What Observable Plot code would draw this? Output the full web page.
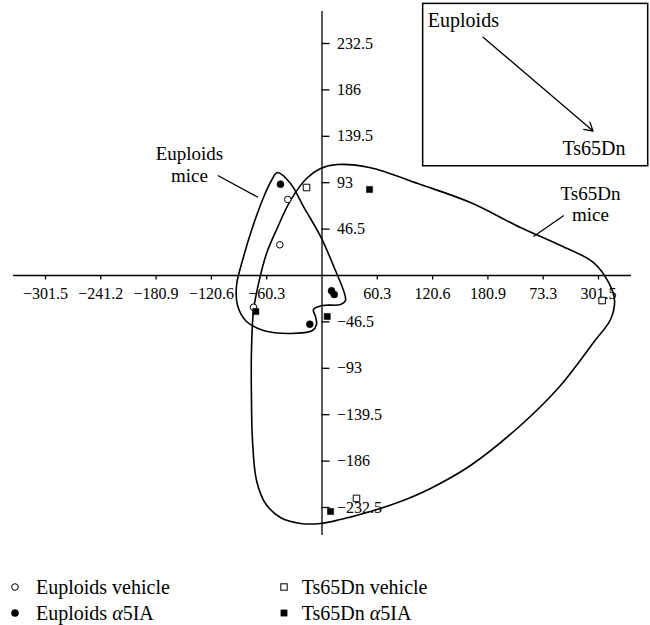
<!DOCTYPE html>
<html>
<head>
<meta charset="utf-8">
<script src="https://cdn.jsdelivr.net/npm/d3@7"></script>
<script src="https://cdn.jsdelivr.net/npm/@observablehq/plot@0.6"></script>
<style>
  html, body { margin: 0; padding: 0; background: #fff; }
  #wrap { position: relative; width: 650px; height: 625px; font-family: "Liberation Serif", serif; }
  #legend { position: relative; height: 65px; font-size: 20px; color: #000; }
  .item { position: absolute; white-space: nowrap; line-height: 26px; height: 26px; }
  .mk { position: absolute; }
</style>
</head>
<body>
<div id="wrap">
  <div id="chart"></div>
  <div id="legend"></div>
</div>
<script>
// ---- Data ----
const xTicks = [-301.5, -241.2, -180.9, -120.6, -60.3, 60.3, 120.6, 180.9, 241.2, 301.5];
const xTickLabels = ["−301.5", "−241.2", "−180.9", "−120.6", "−60.3", "60.3", "120.6", "180.9", "73.3", "301.5"];
const yTicks = [232.5, 186, 139.5, 93, 46.5, -46.5, -93, -139.5, -186, -232.5];
const yTickLabels = ["232.5", "186", "139.5", "93", "46.5", "−46.5", "−93", "−139.5", "−186", "−232.5"];
const xAxisExtent = [-336.4, 337.5];
const yAxisExtent = [-260.5, 264.5];

const euploidsVehicle = [[-37.3, 76.2], [-46.0, 30.8], [-74.7, -31.8]];
const euploidsA5IA = [[-45.3, 91.5], [10.4, -15.3], [13.3, -19.0], [-13.3, -48.8]];
const ts65DnVehicle = [[-16.9, 88.2], [37.6, -223.4], [305.5, -25.1]];
const ts65DnA5IA = [[51.8, 86.2], [-72.2, -36.1], [5.7, -41.1], [9.3, -236.5]];

const euploidsOutline = [
  [-48.5, 103.2], [-34.3, 92.2], [-20.2, 69.1], [-1.6, 39.1], [14.7, 5.0], [24.5, -18.0],
  [25.6, -25.1], [20.2, -29.1], [0.5, -30.1], [-9.3, -34.1], [-7.1, -41.1], [-6.0, -49.1],
  [-10.4, -55.1], [-34.3, -58.1], [-63.8, -55.1], [-82.3, -46.1], [-92.1, -30.1],
  [-93.2, -10.0], [-86.7, 15.0], [-76.9, 45.1], [-63.8, 78.2], [-55.1, 95.2]
];
const ts65DnOutline = [
  [16.9, 111.2], [51.8, 108.2], [107.4, 91.2], [161.9, 73.1], [216.4, 48.1], [260.1, 30.1],
  [296.1, 13.0], [312.5, -7.0], [319.0, -25.1], [314.6, -44.1], [296.1, -67.1], [260.1, -110.2],
  [216.4, -150.3], [161.9, -190.4], [118.3, -213.4], [85.6, -226.5], [52.9, -236.5],
  [20.2, -244.5], [-1.6, -248.5], [-23.4, -248.5], [-45.3, -242.5], [-61.6, -228.5],
  [-71.4, -205.4], [-75.8, -165.3], [-76.9, -125.3], [-76.9, -75.2], [-74.7, -35.1],
  [-69.2, -8.0], [-60.5, 22.0], [-48.5, 48.1], [-34.3, 75.2], [-16.9, 97.2], [-1.6, 107.2]
];

// annotations (data coordinates)
const groupLabels = [
  {text: "Euploids", x: -144.5, y: 121.7},
  {text: "mice", x: -144.5, y: 100.2},
  {text: "Ts65Dn", x: 292.8, y: 82.2},
  {text: "mice", x: 292.8, y: 60.6}
];
const leaderLines = [
  {x1: -113.6, y1: 100.2, x2: -69.8, y2: 78.4},
  {x1: 263.7, y1: 60.1, x2: 230.6, y2: 39.1}
];
const insetBox = [{x1: 110.3, x2: 355.7, y1: 109.5, y2: 272.2}];
const insetArrow = [{x1: 175.7, y1: 238.8, x2: 295.6, y2: 144.7}];
const insetLabels = [
  {text: "Euploids", x: 115.4, y: 255.2},
  {text: "Ts65Dn", x: 262.2, y: 127.6}
];

const legendItems = [
  {label: "Euploids vehicle", symbol: "circle", filled: false},
  {label: "Euploids α5IA", symbol: "circle", filled: true},
  {label: "Ts65Dn vehicle", symbol: "square", filled: false},
  {label: "Ts65Dn α5IA", symbol: "square", filled: true}
];

// ---- Chart ----
const FONT = "Liberation Serif";
const px = d => d[0], py = d => d[1];
const chart = Plot.plot({
  width: 650,
  height: 560,
  margin: 0,
  style: {fontFamily: FONT, fontSize: "16px", background: "white", color: "black", overflow: "visible"},
  x: {domain: [-301.5, 301.5], range: [45, 598], axis: null},
  y: {domain: [-232.5, 232.5], range: [507, 43], axis: null},
  marks: [
    // axes
    Plot.ruleY([0], {x1: xAxisExtent[0], x2: xAxisExtent[1], stroke: "black", strokeWidth: 1.3}),
    Plot.ruleX([0], {y1: yAxisExtent[0], y2: yAxisExtent[1], stroke: "black", strokeWidth: 1.3}),
    Plot.ruleX(xTicks, {x: d => d, y1: () => 0, y2: () => 0, insetBottom: -4.5, stroke: "black", strokeWidth: 1.3}),
    Plot.ruleY(yTicks, {y: d => d, x1: () => 0, x2: () => 0, insetRight: -8, stroke: "black", strokeWidth: 1.3}),
    Plot.text(xTicks, {x: d => d, y: () => 0, text: (d, i) => xTickLabels[i], dy: 18.6, fontSize: 16, fontFamily: FONT, fill: "black"}),
    Plot.text(yTicks, {x: () => 0, y: d => d, text: (d, i) => yTickLabels[i], dx: 15, textAnchor: "start", fontSize: 16, fontFamily: FONT, fill: "black"}),
    // group outlines
    Plot.line(euploidsOutline, {x: px, y: py, curve: "catmull-rom-closed", stroke: "black", strokeWidth: 1.6}),
    Plot.line(ts65DnOutline, {x: px, y: py, curve: "catmull-rom-closed", stroke: "black", strokeWidth: 1.6}),
    // points
    Plot.dot(euploidsVehicle, {x: px, y: py, r: 3.3, fill: "white", stroke: "black", strokeWidth: 1}),
    Plot.dot(euploidsA5IA, {x: px, y: py, r: 3.5, fill: "black", stroke: "black", strokeWidth: 0.5}),
    Plot.dot(ts65DnVehicle, {x: px, y: py, symbol: "square", r: 3.7, fill: "white", stroke: "black", strokeWidth: 1}),
    Plot.dot(ts65DnA5IA, {x: px, y: py, symbol: "square", r: 3.5, fill: "black", stroke: "black", strokeWidth: 0.5}),
    // annotations
    Plot.link(leaderLines, {x1: "x1", y1: "y1", x2: "x2", y2: "y2", stroke: "black", strokeWidth: 1.3}),
    Plot.text(groupLabels, {x: "x", y: "y", text: "text", textAnchor: "middle", fontSize: 19, fontFamily: FONT, fill: "black"}),
    Plot.rect(insetBox, {x1: "x1", x2: "x2", y1: "y1", y2: "y2", fill: "white", stroke: "black", strokeWidth: 1.5}),
    Plot.arrow(insetArrow, {x1: "x1", y1: "y1", x2: "x2", y2: "y2", stroke: "black", strokeWidth: 1.3, headLength: 11}),
    Plot.text(insetLabels, {x: "x", y: "y", text: "text", textAnchor: "start", fontSize: 20, fontFamily: FONT, fill: "black"})
  ]
});
document.getElementById("chart").appendChild(chart);

// ---- Legend (below the SVG) ----
const legend = document.getElementById("legend");
const cols = [15, 284.3];      // marker centres
const textLeft = [36, 301.7];
const rows = [26.7, 52.7];     // centre y relative to legend top
legendItems.forEach((it, i) => {
  const c = i < 2 ? 0 : 1, r = i % 2;
  const ns = "http://www.w3.org/2000/svg";
  const svg = document.createElementNS(ns, "svg");
  svg.setAttribute("width", 12); svg.setAttribute("height", 12);
  svg.setAttribute("class", "mk");
  svg.style.left = (cols[c] - 6) + "px";
  svg.style.top = (rows[r] - 6) + "px";
  let shape;
  if (it.symbol === "circle") {
    shape = document.createElementNS(ns, "circle");
    shape.setAttribute("cx", 6); shape.setAttribute("cy", 6);
    shape.setAttribute("r", it.filled ? 3.6 : 3.3);
  } else {
    shape = document.createElementNS(ns, "rect");
    const s = it.filled ? 6.2 : 6.4;
    shape.setAttribute("x", 6 - s / 2); shape.setAttribute("y", 6 - s / 2);
    shape.setAttribute("width", s); shape.setAttribute("height", s);
  }
  shape.setAttribute("fill", it.filled ? "black" : "white");
  shape.setAttribute("stroke", "black");
  shape.setAttribute("stroke-width", it.filled ? 0.5 : 1);
  svg.appendChild(shape);
  legend.appendChild(svg);
  const t = document.createElement("div");
  t.className = "item";
  t.style.left = textLeft[c] + "px";
  t.style.top = (rows[r] - 13 + 0.5) + "px";
  t.innerHTML = it.label.replace("α", "<i>α</i>");
  legend.appendChild(t);
});
</script>
</body>
</html>
